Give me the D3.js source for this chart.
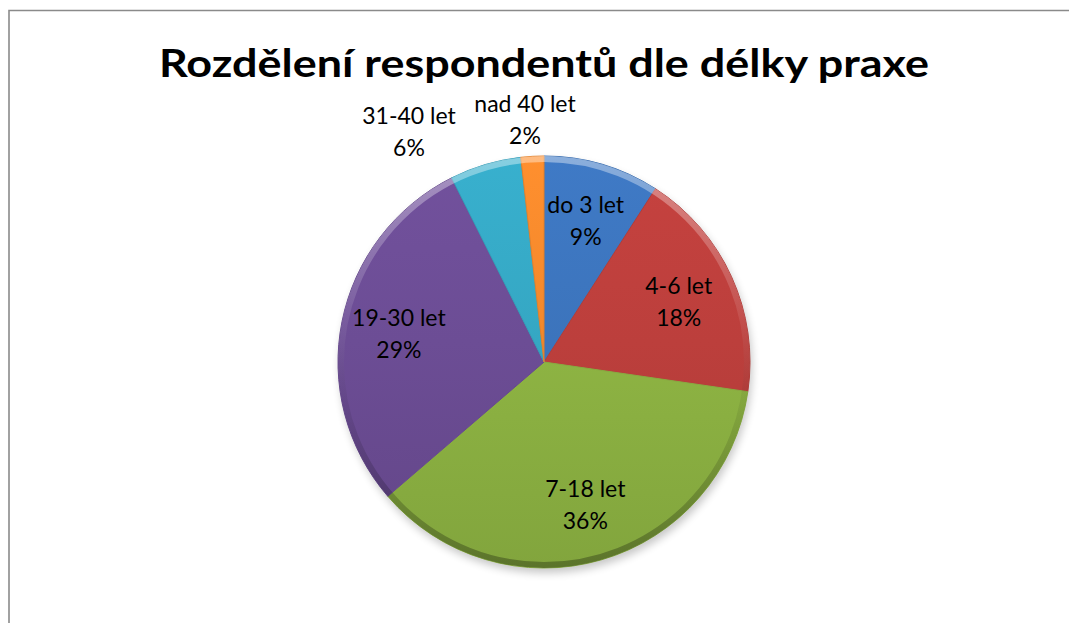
<!DOCTYPE html>
<html>
<head>
<meta charset="utf-8">
<script src="https://cdn.jsdelivr.net/npm/d3@7"></script>
<style>
html,body{margin:0;padding:0;background:#fff;}
svg{display:block;}
text{font-family:Lato,"Open Sans",sans-serif;fill:#000;}
</style>
</head>
<body>
<svg id="chart" width="1069" height="623"></svg>
<script>
const titleText = "Rozdělení respondentů dle délky praxe";
const categories = ["do 3 let", "4-6 let", "7-18 let", "19-30 let", "31-40 let", "nad 40 let"];
const values = [9.1, 18.2, 36.4, 28.9, 5.6, 1.8];
const colors = ["#3C74BC", "#BC3F3C", "#8EB443", "#6C4D95", "#35A7C3", "#F2882C"];

const W = 1069, H = 623;
const svg = d3.select("#chart");
const cx = 544, cy = 362, R = 206;

// frame
svg.append("path")
  .attr("d", `M9,${H} L9,10.5 L${W},10.5`)
  .attr("fill", "none").attr("stroke", "#8a8a8a").attr("stroke-width", 1.6);

// title
const title = svg.append("text")
  .attr("x", 544).attr("y", 77)
  .attr("text-anchor", "middle")
  .style("font-weight", "bold").style("font-size", "39px")
  .text(titleText);
const tl = title.node().getComputedTextLength();
if (Math.abs(tl - 770) > 4) title.attr("textLength", 770).attr("lengthAdjust", "spacingAndGlyphs");

const defs = svg.append("defs");
const sh = defs.append("filter").attr("id", "shadow").attr("x", "-20%").attr("y", "-20%").attr("width", "140%").attr("height", "140%");
sh.append("feGaussianBlur").attr("stdDeviation", 4);

colors.forEach((c, i) => {
  const g = defs.append("linearGradient").attr("id", "g" + i)
    .attr("gradientUnits", "userSpaceOnUse")
    .attr("x1", 0).attr("y1", -R).attr("x2", 0).attr("y2", R);
  const base = d3.rgb(c);
  g.append("stop").attr("offset", "0%").attr("stop-color", base.brighter(0.15));
  g.append("stop").attr("offset", "45%").attr("stop-color", base);
  g.append("stop").attr("offset", "100%").attr("stop-color", base.darker(0.25));
});
const rim = defs.append("linearGradient").attr("id", "rim")
  .attr("gradientUnits", "userSpaceOnUse")
  .attr("x1", 0).attr("y1", -R).attr("x2", 0).attr("y2", R);
rim.append("stop").attr("offset", "0%").attr("stop-color", "#fff").attr("stop-opacity", 0.4);
rim.append("stop").attr("offset", "40%").attr("stop-color", "#fff").attr("stop-opacity", 0.08);
rim.append("stop").attr("offset", "60%").attr("stop-color", "#000").attr("stop-opacity", 0.06);
rim.append("stop").attr("offset", "100%").attr("stop-color", "#000").attr("stop-opacity", 0.3);

const pie = d3.pie().sort(null).value(d => d)(values);
const arc = d3.arc().innerRadius(0).outerRadius(R);
const g = svg.append("g").attr("transform", `translate(${cx},${cy})`);

// shadow
g.append("circle").attr("cx", 2).attr("cy", 5).attr("r", R).attr("fill", "#000").attr("opacity", 0.22).attr("filter", "url(#shadow)");

g.selectAll("path.slice").data(pie).enter().append("path")
  .attr("class", "slice")
  .attr("d", arc)
  .attr("fill", (d, i) => `url(#g${i})`)
  .attr("stroke", (d, i) => d3.rgb(colors[i]).darker(0.15))
  .attr("stroke-width", 1)
  .attr("stroke-linejoin", "round");

// bevel rim
g.append("circle").attr("r", R - 3).attr("fill", "none")
  .attr("stroke", "url(#rim)").attr("stroke-width", 6);

// labels
const labelArc = d3.arc().innerRadius(148).outerRadius(148);
const outsideOffsets = {4: [-135, -231], 5: [-19, -243]};
const lab = g.selectAll("g.lab").data(pie).enter().append("g")
  .attr("transform", (d, i) => {
    let p = outsideOffsets[i] || labelArc.centroid(d);
    return `translate(${p[0]},${p[1]})`;
  });
lab.append("text").attr("text-anchor", "middle").attr("y", -7)
  .style("font-size", "23px").text((d, i) => categories[i]);
lab.append("text").attr("text-anchor", "middle").attr("y", 25)
  .style("font-size", "23px").text(d => Math.round(d.value) + "%");
</script>
</body>
</html>
